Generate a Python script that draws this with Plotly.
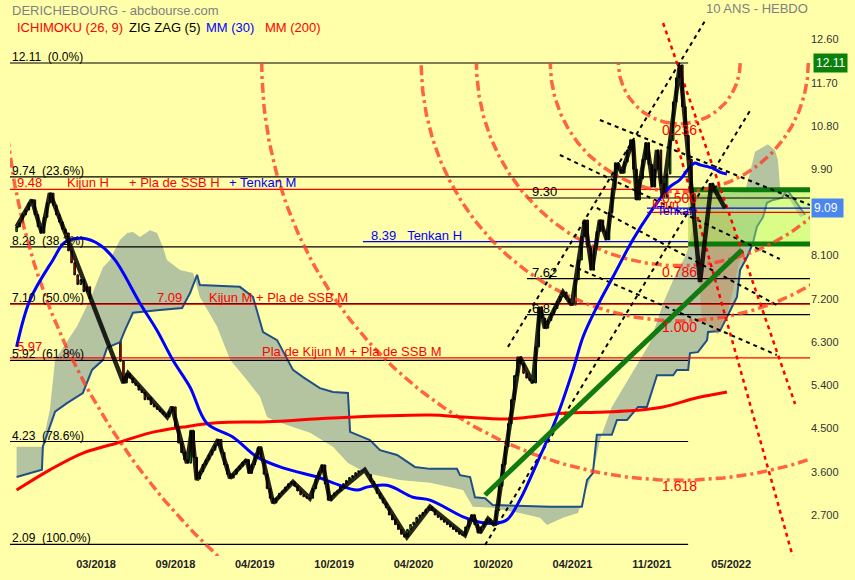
import numpy as np
import plotly.graph_objects as go

# ---------------- DATA ----------------
# weekly closes, week index 0..232
closes = [
    8.70, 8.78, 8.95, 9.05, 9.20, 9.26, 8.95, 8.70, 8.57, 8.90, 9.20, 9.40, 9.15, 8.95, 8.80, 8.65, 8.57, 8.20, 7.95,
    7.70, 7.50, 7.60, 7.35, 7.45, 7.20, 7.10, 7.25, 7.15, 7.20, 7.10, 7.15, 7.25, 7.10, 7.15, 5.90, 5.45, 5.65,
    5.55, 5.45, 5.40, 5.30, 5.25, 5.10, 5.15, 5.00, 4.95, 4.90, 4.85, 4.80, 4.74, 4.85, 4.95, 4.50, 4.20, 4.00, 3.85, 3.78,
    4.45, 3.90, 3.45, 3.60, 3.75, 3.85, 3.95, 4.05, 4.15, 4.27, 4.00, 3.75, 3.55, 3.47, 3.55, 3.65, 3.72, 3.80, 3.85, 3.57,
    3.75, 3.95, 4.10, 3.85, 3.55, 3.25, 3.05, 2.95, 3.05, 3.15, 3.20, 3.28, 3.35, 3.39, 3.30, 3.20, 3.12, 3.08, 3.05, 3.05,
    3.25, 3.45, 3.60, 3.74, 3.35, 3.01, 3.10, 3.16, 3.20, 3.30, 3.35, 3.42, 3.48, 3.52, 3.58, 3.62, 3.65, 3.64, 3.55, 3.40,
    3.30, 3.15, 3.05, 2.95, 2.85, 2.70, 2.60, 2.50, 2.40, 2.30, 2.24, 2.40, 2.50, 2.55, 2.65, 2.70, 2.75, 2.82, 2.87, 2.80,
    2.70, 2.65, 2.60, 2.55, 2.50, 2.45, 2.40, 2.35, 2.30, 2.28, 2.45, 2.60, 2.70, 2.50, 2.33, 2.45, 2.55, 2.62, 2.55, 2.49,
    2.80, 3.30, 3.75, 4.12, 4.60, 5.10, 5.60, 5.99, 5.85, 5.65, 5.55, 5.50, 5.45, 6.20, 7.03, 6.80, 6.59, 6.75, 6.90, 7.00,
    7.15, 7.25, 7.34, 7.20, 7.10, 7.07, 7.60, 8.01, 8.50, 8.84, 8.30, 7.80, 8.30, 8.60, 8.84, 8.60, 8.43, 9.00, 9.50, 10.03,
    9.90, 9.82, 10.05, 10.30, 10.51, 9.90, 9.26, 9.70, 10.10, 10.45, 10.00, 9.53, 9.90, 10.30, 9.60, 9.32, 9.80, 10.50, 11.30, 11.80,
    12.07, 11.20, 10.60, 10.10, 9.40, 8.50, 7.90, 7.45, 8.30, 9.00, 9.60, 9.40, 9.55, 9.30, 8.60, 9.09,
]
first_open = 8.60

# zig zag (5) pivots
zz_x = [0, 5, 8.3, 10.9, 35, 36.5, 49.3, 50.9, 55.8, 57.4, 59, 66, 69.9, 75.4, 76.4, 79.7, 84, 90.5, 96, 100.3,
        102.6, 104.9, 114, 127.8, 135.4, 146.8, 149.4, 151.7, 154.4, 156.6, 164.8, 169.1, 171.4, 173, 178.9, 181.8,
        186.1, 188.4, 191, 193.3, 196.6, 198.2, 201.8, 203.1, 206.4, 208.4, 209.7, 211.6, 217.2, 223.8, 227.5, 232]
zz_y = [8.70, 9.26, 8.57, 9.40, 5.45, 5.65, 4.74, 4.95, 3.78, 4.47, 3.43, 4.27, 3.47, 3.85, 3.57, 4.12, 2.95, 3.39, 3.05, 3.74,
        3.01, 3.16, 3.64, 2.24, 2.87, 2.28, 2.70, 2.33, 2.62, 2.49, 5.99, 5.45, 7.03, 6.59, 7.34, 7.07,
        8.84, 7.80, 8.84, 8.43, 10.03, 9.82, 10.51, 9.26, 10.45, 9.53, 10.30, 9.32, 12.07, 7.55, 9.60, 9.09]

# MM (30)
ma30_x = [0, 4.4, 11.9, 15.8, 21.7, 27.3, 32.2, 40.4, 45.9, 51.2, 56.8, 62.3, 70.9, 78.7, 87.2, 98.4, 103.6, 111.5,
          114.7, 121.3, 129.8, 135.4, 146.2, 151.7, 157.3, 160.6, 164.8, 170.4, 176.9, 182.2, 185.5, 190.0, 195.3,
          201.8, 207.4, 213.9, 217.2, 220.5, 222.1, 223.8, 228.0, 230.3, 232.6]
ma30_y = [6.20, 7.18, 8.01, 8.38, 8.46, 8.32, 8.01, 7.11, 6.55, 5.92, 5.36, 4.61, 4.32, 3.91, 3.68, 3.49, 3.37, 3.22,
          3.28, 3.32, 3.07, 3.01, 2.66, 2.55, 2.53, 2.60, 3.01, 3.78, 4.74, 5.72, 6.41, 7.03, 7.66,
          8.43, 8.99, 9.53, 9.68, 9.95, 10.03, 9.99, 9.92, 9.84, 9.80]

# MM (200)
ma200_x = [0, 10.9, 21.7, 32.9, 43.7, 54.5, 65.6, 82, 103.6, 135.4, 146.2, 160.6, 168.1, 178.9, 190, 200.8, 211.7, 222.8, 232.6]
ma200_y = [3.22, 3.64, 3.99, 4.20, 4.41, 4.53, 4.62, 4.64, 4.72, 4.78, 4.74, 4.70, 4.74, 4.82, 4.84, 4.87, 4.95, 5.14, 5.26]

# Ichimoku cloud (already projected 26 weeks ahead)
ssa_x = [0, 8.3, 10.9, 12.6, 19.8, 24.0, 28.3, 30.6, 32.2, 33.9, 36.2, 38.1, 40.4, 43.7, 46.0, 47.9, 49.2, 53.5, 57.8,
         60.0, 65.6, 69.9, 75.4, 79.7, 82.0, 83.9, 90.5, 96.1, 103.6, 108.5, 114.7, 125.5, 135.4, 146.2, 149.4, 155.9,
         164.8, 171.4, 173.7, 178.9, 183.8, 186.8, 188.7, 191.0, 194.9, 200.8, 207.4, 211.7, 215.0, 219.5, 221.5, 222.8,
         238.5, 240.1, 241.8, 246.0, 248.3, 249.3, 250.0, 253.2, 256.6, 258.2]
ssa_y = [4.12, 4.12, 4.89, 5.93, 6.63, 7.18, 7.86, 8.01, 8.22, 8.43, 8.57, 8.59, 8.49, 8.63, 8.57, 8.28, 8.01, 7.80, 7.74,
         7.24, 6.63, 5.93, 5.51, 5.16, 4.74, 4.68, 4.53, 4.41, 4.12, 3.78, 3.57, 3.43, 3.37, 3.22, 2.87, 2.85,
         2.74, 2.64, 2.49, 2.64, 2.74, 3.28, 3.57, 4.26, 4.95, 5.57, 6.28, 7.11, 7.59, 8.16, 8.74, 9.36,
         9.43, 9.82, 10.26, 10.42, 10.30, 10.09, 9.53, 9.26, 8.90, 8.95]
ssb_x = [0, 8.3, 8.6, 12.6, 16.5, 21.7, 24.7, 28.3, 29.6, 33.9, 35.5, 38.1, 46.9, 54.2, 56.8, 59.1, 60.0, 73.1, 77.4,
         80.7, 85.3, 90.5, 93.8, 99.3, 103.6, 108.5, 109.2, 115.7, 119.0, 124.6, 130.4, 135.4, 144.2, 145.2, 148.5,
         150.1, 153.4, 155.9, 174.7, 185.1, 186.8, 188.7, 190.0, 194.9, 196.6, 199.9, 203.5, 206.4, 209.7, 215.0,
         216.2, 219.9, 220.5, 223.1, 226.1, 226.4, 230.3, 232.6, 235.9, 236.9, 239.2, 241.1, 242.4, 244.4, 245.7,
         247.7, 250.6, 252.3, 258.2]
ssb_y = [3.49, 3.64, 4.12, 4.85, 5.03, 5.24, 5.72, 5.93, 6.18, 6.30, 6.55, 6.91, 6.97, 7.01, 7.32, 7.70, 7.49, 7.45, 7.24,
         6.51, 6.34, 5.72, 5.57, 5.34, 5.26, 5.24, 4.43, 4.26, 4.05, 3.95, 3.70, 3.66, 3.66, 3.53, 3.49,
         3.07, 3.05, 2.91, 2.87, 2.87, 3.43, 3.57, 4.37, 4.37, 4.68, 4.68, 4.95, 4.95, 5.61, 5.61,
         5.72, 5.72, 6.07, 6.09, 6.34, 6.51, 6.53, 6.82, 7.24, 7.80, 8.07, 8.36, 8.70, 8.90, 9.20,
         9.26, 9.30, 9.47, 8.95]

# Fibonacci retracement 12.11 -> 2.09
fib_levels = [12.11, 9.74, 8.28, 7.10, 5.92, 4.23, 2.09]
fib_pcts = ["0.0%", "23.6%", "38.2%", "50.0%", "61.8%", "78.6%", "100.0%"]
fib_x_end = [219.9, 219.9, 219.9, 259.8, 219.9, 219.9, 219.9]

# other horizontal levels
pivot_levels = [9.30, 7.62, 6.87]
ichi_levels = [9.48, 7.09, 5.97]
tenkan_h = 8.39
kijun_now = 9.00
tenkan_now = 9.09
last_price = 9.09
high_price = 12.11

# Fibonacci arcs from the 12.11 high
arc_ratios = [0.236, 0.5, 0.786, 1.0, 1.618, 2.618]
arc_labels = ["0.236", "0.500", "0.786", "1.000", "1.618", ""]
arc_cx, arc_cy = 217.0, 12.11
arc_rx, arc_ry = 84.5, 5.37

# trend-line drawings (week index, price)
fan_black = [
    [(160.9, 6.20), (225.4, 12.985)],
    [(153.4, 2.075), (240.1, 11.11)],
    [(177.9, 10.195), (249.9, 8.03)],
    [(191.0, 10.924), (259.8, 9.154)],
    [(190.0, 9.092), (248.9, 7.072)],
    [(181.2, 7.905), (248.9, 6.031)],
]
fan_red = [
    [(211.7, 12.943), (254.9, 5.011)],
    [(215.9, 10.507), (254.2, 1.825)],
]
green_trend = [(153.4, 3.117), (237.5, 8.217)]
zone_x = [219.9, 262.0]
zone_y = [8.34, 9.47]
tan_x = [219.9, 230.3, 237.5, 234.6, 232.0, 229.7, 224.4, 222.8, 219.9]
tan_y = [9.47, 9.47, 8.24, 7.38, 6.76, 6.45, 6.76, 8.22, 8.34]

# axis labels
x_tick_pos = [26, 52, 78, 104, 130, 156, 182, 208, 234]
x_tick_lab = ["03/2018", "09/2018", "04/2019", "10/2019", "04/2020", "10/2020", "04/2021", "11/2021", "05/2022"]
y_tick_pos = [12.6, 11.7, 10.8, 9.9, 8.1, 7.2, 6.3, 5.4, 4.5, 3.6, 2.7]
y_tick_lab = ["12.60", "11.70", "10.80", "9.90", "8.100", "7.200", "6.300", "5.400", "4.500", "3.600", "2.700"]

# ---------------- FIGURE ----------------
BG = "#FFFFAA"
FONT = "Arial, Liberation Sans, sans-serif"
X0, X1 = -2.16, 259.8
Y0, Y1 = 1.846, 13.422

fig = go.Figure()

# cloud
fig.add_trace(go.Scatter(x=ssa_x + ssb_x[::-1], y=ssa_y + ssb_y[::-1], fill="toself",
                         fillcolor="rgb(180,195,160)", line=dict(width=0), mode="lines",
                         hoverinfo="skip", showlegend=False))
fig.add_trace(go.Scatter(x=ssb_x, y=ssb_y, mode="lines", line=dict(color="#1F4F86", width=2),
                         hoverinfo="skip", showlegend=False))

# tan polygon and green zone
fig.add_trace(go.Scatter(x=tan_x, y=tan_y, fill="toself", fillcolor="rgba(205,120,70,0.38)",
                         line=dict(width=0), mode="lines", hoverinfo="skip", showlegend=False))
fig.add_trace(go.Scatter(x=[zone_x[0], zone_x[1], zone_x[1], zone_x[0], zone_x[0]],
                         y=[zone_y[0], zone_y[0], zone_y[1], zone_y[1], zone_y[0]],
                         fill="toself", fillcolor="rgba(170,250,90,0.45)", line=dict(width=0),
                         mode="lines", hoverinfo="skip", showlegend=False))


def hline(y, xa, xb, color, width=1.2):
    fig.add_trace(go.Scatter(x=[xa, xb], y=[y, y], mode="lines", line=dict(color=color, width=width),
                             hoverinfo="skip", showlegend=False))


for lv, xe in zip(fib_levels, fib_x_end):
    hline(lv, X0, xe, "black")
for lv in pivot_levels:
    hline(lv, 167.1, X1, "black")
for lv in ichi_levels:
    hline(lv, X0, X1, "red")
hline(tenkan_h, 113.4, 219.9, "blue")
hline(kijun_now, 206.4, X1, "red")
hline(tenkan_now, 206.4, X1, "blue")

# green zone borders
hline(zone_y[1], zone_x[0], zone_x[1], "#0A7A0A", 5)
hline(zone_y[0], zone_x[0], zone_x[1], "#0A7A0A", 5)

# fibonacci arcs
t = np.linspace(0, np.pi, 241)
for r in arc_ratios:
    fig.add_trace(go.Scatter(x=arc_cx + arc_rx * r * np.cos(t), y=arc_cy - arc_ry * r * np.sin(t),
                             mode="lines", line=dict(color="rgba(255,60,40,0.8)", width=3.5,
                                                     dash="10px,4px,3px,4px"),
                             hoverinfo="skip", showlegend=False))

# fans
for (a, b) in fan_black:
    fig.add_trace(go.Scatter(x=[a[0], b[0]], y=[a[1], b[1]], mode="lines",
                             line=dict(color="black", width=2, dash="4px,4px"),
                             hoverinfo="skip", showlegend=False))
for (a, b) in fan_red:
    fig.add_trace(go.Scatter(x=[a[0], b[0]], y=[a[1], b[1]], mode="lines",
                             line=dict(color="red", width=2.5, dash="4px,4px"),
                             hoverinfo="skip", showlegend=False))

# moving averages
fig.add_trace(go.Scatter(x=ma200_x, y=ma200_y, mode="lines", line=dict(color="red", width=3, shape="spline"),
                         hoverinfo="skip", showlegend=False))
fig.add_trace(go.Scatter(x=ma30_x, y=ma30_y, mode="lines", line=dict(color="blue", width=3, shape="spline"),
                         hoverinfo="skip", showlegend=False))

# candles
weeks = list(range(len(closes)))
opens = [first_open] + closes[:-1]
highs = [max(o, c) for o, c in zip(opens, closes)]
lows = [min(o, c) for o, c in zip(opens, closes)]
fig.add_trace(go.Candlestick(x=weeks, open=opens, high=highs, low=lows, close=closes,
                             increasing=dict(fillcolor="#00CC00", line=dict(color="black", width=1)),
                             decreasing=dict(fillcolor="#FF0000", line=dict(color="black", width=1)),
                             whiskerwidth=0, hoverinfo="skip", showlegend=False))

# zig zag
fig.add_trace(go.Scatter(x=zz_x, y=zz_y, mode="lines", line=dict(color="rgba(0,0,0,0.85)", width=4.5),
                         hoverinfo="skip", showlegend=False))

# green trend line
fig.add_trace(go.Scatter(x=[green_trend[0][0], green_trend[1][0]], y=[green_trend[0][1], green_trend[1][1]],
                         mode="lines", line=dict(color="#117A11", width=5), hoverinfo="skip", showlegend=False))

ann = []


def txt(x, y, s, color, size=12, xref="x", yref="y", xanchor="left", yanchor="bottom", yshift=-3, **kw):
    ann.append(dict(x=x, y=y, xref=xref, yref=yref, text=s, showarrow=False, xanchor=xanchor,
                    yanchor=yanchor, yshift=yshift, font=dict(family=FONT, size=size, color=color), **kw))


NB = "\u00a0"
for lv, p in zip(fib_levels, fib_pcts):
    txt(X0, lv, f"{lv:.2f}{NB}{NB}({p})", "black", 12)
for lv in pivot_levels:
    txt(168.1, lv, f"{lv:.2f}", "black", 13)

txt(-0.5, ichi_levels[0], f"{ichi_levels[0]:.2f}", "red", 13)
txt(15.8, ichi_levels[0], "Kijun H", "red", 13)
txt(36.2, ichi_levels[0], "+ Pla de SSB H", "red", 13)
txt(68.9, ichi_levels[0], "+ Tenkan M", "blue", 13)
txt(45.3, ichi_levels[1], f"{ichi_levels[1]:.2f}", "red", 13)
txt(62.3, ichi_levels[1], "Kijun M + Pla de SSB M", "red", 13)
txt(-0.5, ichi_levels[2], f"{ichi_levels[2]:.2f}", "red", 13, yshift=2)
txt(79.7, ichi_levels[2], "Pla de Kijun M + Pla de SSB M", "red", 13)
txt(115.4, tenkan_h, f"{tenkan_h:.2f}{NB}{NB}{NB}Tenkan H", "blue", 13)
txt(207.4, kijun_now, "Kijun", "red", 12, yshift=-2)
txt(209.0, tenkan_now, "Tenkan", "blue", 12, yshift=-12)

for r, lab in zip(arc_ratios, arc_labels):
    if lab:
        txt(arc_cx + 0.2, arc_cy - arc_ry * r - 0.12, lab, "red", 14, xanchor="center", yanchor="middle", yshift=0)

# right-hand price boxes
ann.append(dict(x=1, y=high_price, xref="paper", yref="y", text=f"{high_price:.2f}", showarrow=False,
                xanchor="left", yanchor="middle", xshift=3, bgcolor="#0B800B", borderpad=2,
                font=dict(family=FONT, size=12, color="white")))
ann.append(dict(x=1, y=last_price, xref="paper", yref="y", text=f"{last_price:.2f}" + NB, showarrow=False,
                xanchor="left", yanchor="middle", xshift=1, bgcolor="#4A86F0", borderpad=2,
                font=dict(family=FONT, size=12, color="white")))

# headers
txt(0, 0.982, "DERICHEBOURG - abcbourse.com", "#808080", 13, xref="paper", yref="paper",
    yanchor="middle", yshift=0)
txt(1, 0.984, "10 ANS - HEBDO", "#808080", 13, xref="paper", yref="paper", xanchor="right",
    yanchor="middle", yshift=0)
txt(0.006, 0.950, "ICHIMOKU (26, 9)", "red", 13, xref="paper", yref="paper", yanchor="middle", yshift=0)
txt(0.146, 0.950, "ZIG ZAG (5)", "black", 13, xref="paper", yref="paper", yanchor="middle", yshift=0)
txt(0.243, 0.950, "MM (30)", "blue", 13, xref="paper", yref="paper", yanchor="middle", yshift=0)
txt(0.316, 0.950, "MM (200)", "red", 13, xref="paper", yref="paper", yanchor="middle", yshift=0)

fig.update_layout(
    width=855, height=580,
    margin=dict(l=10, r=45, t=0, b=24),
    paper_bgcolor=BG, plot_bgcolor=BG,
    showlegend=False,
    annotations=ann,
    xaxis=dict(range=[X0, X1], showgrid=False, zeroline=False, showline=False, ticks="",
               tickvals=x_tick_pos, ticktext=x_tick_lab, rangeslider=dict(visible=False),
               tickfont=dict(family=FONT, size=11, color="#222222", weight="bold"), fixedrange=True),
    yaxis=dict(range=[Y0, Y1], side="right", showgrid=False, zeroline=False, showline=False, ticks="",
               tickvals=y_tick_pos, ticktext=y_tick_lab,
               tickfont=dict(family=FONT, size=11, color="#333333"), fixedrange=True),
)

# remove the default page margin so the figure sits at the window's top-left corner
fig.write_html("out.html", config={"displayModeBar": False},
               post_script="document.body.style.margin='0';document.body.style.overflow='hidden';")
